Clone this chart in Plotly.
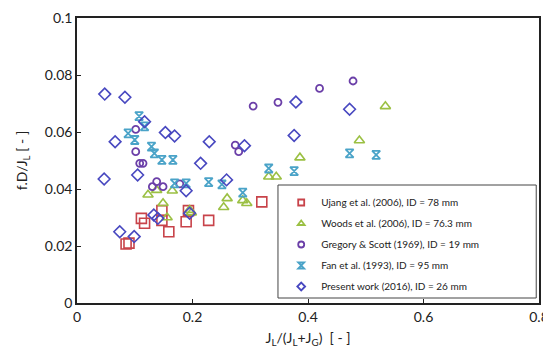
import plotly.graph_objects as go

ujang_x = [0.085, 0.09, 0.1115, 0.117, 0.147, 0.147, 0.159, 0.189, 0.193, 0.228, 0.32]
ujang_y = [0.0207, 0.021, 0.0297, 0.028, 0.0324, 0.029, 0.025, 0.0285, 0.0324, 0.029, 0.0355]

woods_x = [0.123, 0.138, 0.149, 0.156, 0.165, 0.195, 0.198, 0.254, 0.26, 0.287, 0.294, 0.332, 0.345, 0.386, 0.489, 0.534]
woods_y = [0.038, 0.0396, 0.035, 0.030, 0.0394, 0.0326, 0.0317, 0.0336, 0.0367, 0.036, 0.035, 0.0443, 0.0443, 0.051, 0.057, 0.069]

gregory_x = [0.1017, 0.1017, 0.1086, 0.1143, 0.138, 0.1305, 0.149, 0.178, 0.274, 0.28, 0.305, 0.348, 0.42, 0.478]
gregory_y = [0.0609, 0.0531, 0.049, 0.049, 0.0426, 0.0408, 0.0408, 0.0418, 0.0554, 0.0531, 0.0691, 0.0704, 0.0753, 0.0779]

fan_x = [0.0885, 0.10, 0.1075, 0.117, 0.129, 0.134, 0.147, 0.166, 0.169, 0.189, 0.228, 0.251, 0.287, 0.332, 0.376, 0.472, 0.518]
fan_y = [0.0595, 0.0572, 0.0656, 0.062, 0.0549, 0.0525, 0.0502, 0.0502, 0.042, 0.042, 0.0424, 0.0416, 0.0387, 0.0472, 0.0463, 0.0525, 0.052]

present_x = [0.048, 0.083, 0.117, 0.066, 0.153, 0.169, 0.229, 0.214, 0.047, 0.105, 0.189, 0.259, 0.29, 0.376, 0.379, 0.472, 0.074, 0.099, 0.133, 0.14, 0.195]
present_y = [0.0733, 0.0722, 0.0636, 0.0566, 0.0598, 0.0586, 0.0566, 0.049, 0.0435, 0.0449, 0.0394, 0.0432, 0.0552, 0.0588, 0.0705, 0.068, 0.025, 0.0233, 0.0309, 0.0297, 0.0315]

x_ticks = [0, 0.2, 0.4, 0.6, 0.8]
x_ticklabels = ["0", "0.2", "0.4", "0.6", "0.8"]
y_ticks = [0, 0.02, 0.04, 0.06, 0.08, 0.1]
y_ticklabels = ["0", "0.02", "0.04", "0.06", "0.08", "0.1"]

series = [
    ("Ujang et al. (2006), ID = 78 mm", ujang_x, ujang_y, "square-open", "#C8434A", 10, 1.6),
    ("Woods et al. (2006), ID = 76.3 mm", woods_x, woods_y, "triangle-up-open", "#9BC043", 9, 1.6),
    ("Gregory & Scott (1969), ID = 19 mm", gregory_x, gregory_y, "circle-open", "#6B3FA8", 7, 1.8),
    ("Fan et al. (1993), ID = 95 mm", fan_x, fan_y, "hourglass-open", "#4AA3C8", 8, 1.8),
    ("Present work (2016), ID = 26 mm", present_x, present_y, "diamond-open", "#4848C0", 9, 1.6),
]

fig = go.Figure()
for name, xs, ys, sym, col, sz, lw in series:
    fig.add_trace(go.Scatter(
        x=xs, y=ys, mode="markers", name=name, showlegend=False,
        marker=dict(symbol=sym, size=sz, color=col, line=dict(color=col, width=lw)),
    ))
for i, (name, xs, ys, sym, col, sz, lw) in enumerate(series):
    fig.add_trace(go.Scatter(
        x=[None], y=[None], mode="markers", name=name, showlegend=True,
        legendgroup=f"g{i}",
        marker=dict(symbol=sym, size=6, color=col, line=dict(color=col, width=1.8)),
    ))

# legend frame drawn as a shape so it can be as wide as the reference's
fig.add_shape(type="rect", xref="paper", yref="paper",
              x0=0.435, x1=0.994, y0=0.0175, y1=0.414,
              line=dict(color="#444", width=1), fillcolor="white", layer="above")

font_family = "Lato, 'Open Sans', sans-serif"
# page body has an 8px default margin, so the figure is sized to fit the 551x358 window
fig.update_layout(
    width=543, height=350,
    margin=dict(l=69, r=12, t=10, b=55),
    plot_bgcolor="white", paper_bgcolor="white",
    font=dict(family=font_family, size=14, color="#222"),
    showlegend=True,
    legend=dict(
        x=0.442, y=0.4035, xanchor="left", yanchor="top",
        bgcolor="rgba(0,0,0,0)", borderwidth=0,
        font=dict(size=10, color="#222"),
        tracegroupgap=2, itemsizing="trace",
    ),
    xaxis=dict(
        range=[0, 0.8], tickvals=x_ticks, ticktext=x_ticklabels,
        showgrid=False, zeroline=False, automargin=False,
        ticklabeloverflow="allow",
        showline=True, linecolor="#222", linewidth=1.5, mirror=True,
        ticks="inside", ticklen=4, tickcolor="#222",
        title=dict(text="J<sub>L</sub>/(J<sub>L</sub>+J<sub>G</sub>)  [ - ]", font=dict(size=14), standoff=10),
    ),
    yaxis=dict(
        range=[0, 0.1], tickvals=y_ticks, ticktext=y_ticklabels,
        showgrid=False, zeroline=False, automargin=False,
        showline=True, linecolor="#222", linewidth=1.5, mirror=True,
        ticks="inside", ticklen=4, tickcolor="#222",
        title=dict(text="f.D/J<sub>L</sub> [ - ]", font=dict(size=14), standoff=14),
    ),
)

fig.write_html("out.html")
